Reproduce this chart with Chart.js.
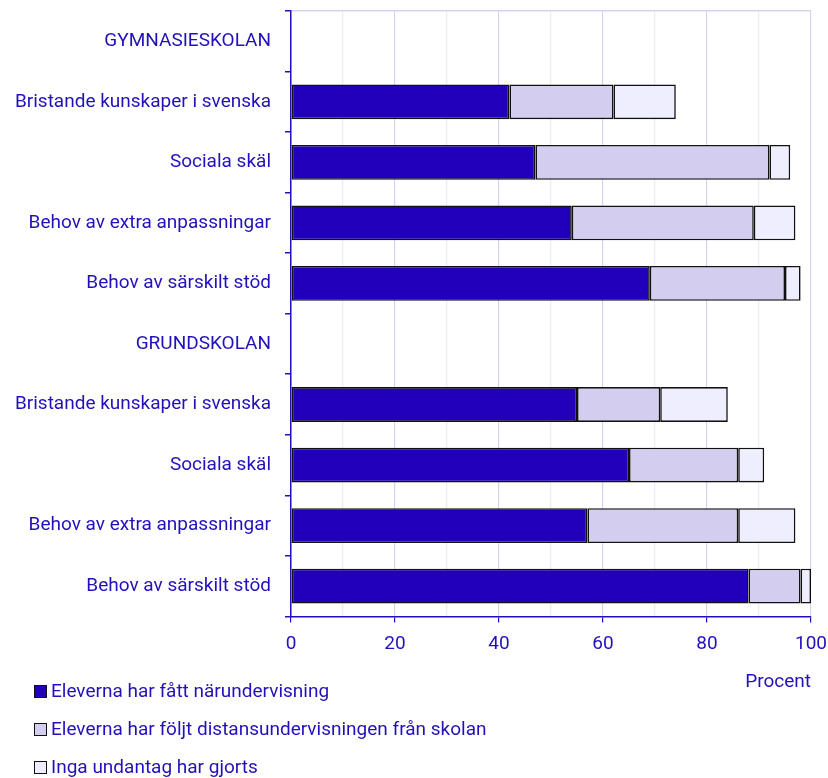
<!DOCTYPE html>
<html>
<head>
<meta charset="utf-8">
<script src="https://cdn.jsdelivr.net/npm/chart.js@4"></script>
<style>
  body { margin: 0; background: #fff; font-family: Roboto, sans-serif; }
  #wrap { position: relative; width: 828px; height: 778px; }
  #legend { position: absolute; left: 34px; top: 678px; color: #2211bb; font-size: 19px; }
  .item { height: 38px; line-height: 26px; display: flex; align-items: flex-start; }
  .box { width: 11px; height: 11px; border: 1.5px solid #111; margin: 7px 4px 0 0; }
</style>
</head>
<body>
<div id="wrap">
  <canvas id="chart" width="828" height="778"></canvas>
  <div id="legend"></div>
</div>
<script>
var categories = [
    'GYMNASIESKOLAN',
    'Bristande kunskaper i svenska',
    'Sociala skäl',
    'Behov av extra anpassningar',
    'Behov av särskilt stöd',
    'GRUNDSKOLAN',
    'Bristande kunskaper i svenska',
    'Sociala skäl',
    'Behov av extra anpassningar',
    'Behov av särskilt stöd'
];
var seriesNames = [
    'Eleverna har fått närundervisning',
    'Eleverna har följt distansundervisningen från skolan',
    'Inga undantag har gjorts'
];
var narundervisning = [null, 42, 47, 54, 69, null, 55, 65, 57, 88];
var distans = [null, 20, 45, 35, 26, null, 16, 21, 29, 10];
var ingaUndantag = [null, 12, 4, 8, 3, null, 13, 5, 11, 2];
var xTicks = [0, 20, 40, 60, 80, 100];

var colors = ['#2200bb', '#d3cef0', '#eeeeff'];
var textColor = '#2211bb';
var values = [narundervisning, distans, ingaUndantag];

var datasets = values.map(function (v, i) {
    return {
        label: seriesNames[i],
        data: v,
        backgroundColor: colors[i],
        borderColor: '#111',
        borderWidth: 1.6,
        borderSkipped: false,
        barPercentage: 0.575,
        categoryPercentage: 1
    };
});

var ctx = document.getElementById('chart').getContext('2d');
var chart = new Chart(ctx, {
    type: 'bar',
    data: {
        labels: categories,
        datasets: datasets
    },
    options: {
        indexAxis: 'y',
        responsive: false,
        animation: false,
        layout: {
            padding: { top: 11, right: 17, bottom: 84, left: 0 }
        },
        plugins: {
            legend: { display: false },
            tooltip: { enabled: false }
        },
        scales: {
            x: {
                stacked: true,
                min: 0,
                max: 100,
                ticks: {
                    stepSize: 10,
                    color: textColor,
                    font: { family: 'Roboto', size: 19 },
                    padding: 10,
                    maxRotation: 0,
                    callback: function (value) {
                        return xTicks.indexOf(value) >= 0 ? value : '';
                    }
                },
                grid: {
                    color: function (c) {
                        return c.tick && c.tick.value % 20 === 0 ? '#d4d4f0' : '#ececf7';
                    },
                    tickColor: function (c) {
                        return c.tick && c.tick.value % 20 === 0 ? textColor : 'rgba(0,0,0,0)';
                    },
                    tickLength: 6,
                    lineWidth: 1.2
                },
                border: { color: textColor, width: 1.5 },
                title: {
                    display: true,
                    text: 'Procent',
                    align: 'end',
                    color: textColor,
                    font: { family: 'Roboto', size: 19 },
                    padding: { top: 6, bottom: 0 }
                },
                afterFit: function (scale) {
                    scale.paddingLeft = 0;
                    scale.paddingRight = 0;
                }
            },
            y: {
                stacked: true,
                ticks: {
                    color: textColor,
                    font: { family: 'Roboto', size: 19 },
                    padding: 14
                },
                grid: {
                    offset: true,
                    color: function (c) {
                        return c.index === 0 ? '#d4d4f0' : 'rgba(0,0,0,0)';
                    },
                    tickColor: textColor,
                    tickLength: 6,
                    lineWidth: 1.5
                },
                border: { color: textColor, width: 1.5 },
                afterFit: function (scale) {
                    scale.width = 291;
                    scale.paddingTop = 0;
                    scale.paddingBottom = 0;
                }
            }
        }
    }
});

var legend = document.getElementById('legend');
seriesNames.forEach(function (name, i) {
    var item = document.createElement('div');
    item.className = 'item';
    var box = document.createElement('span');
    box.className = 'box';
    box.style.background = colors[i];
    var label = document.createElement('span');
    label.textContent = name;
    item.appendChild(box);
    item.appendChild(label);
    legend.appendChild(item);
});
</script>
</body>
</html>
